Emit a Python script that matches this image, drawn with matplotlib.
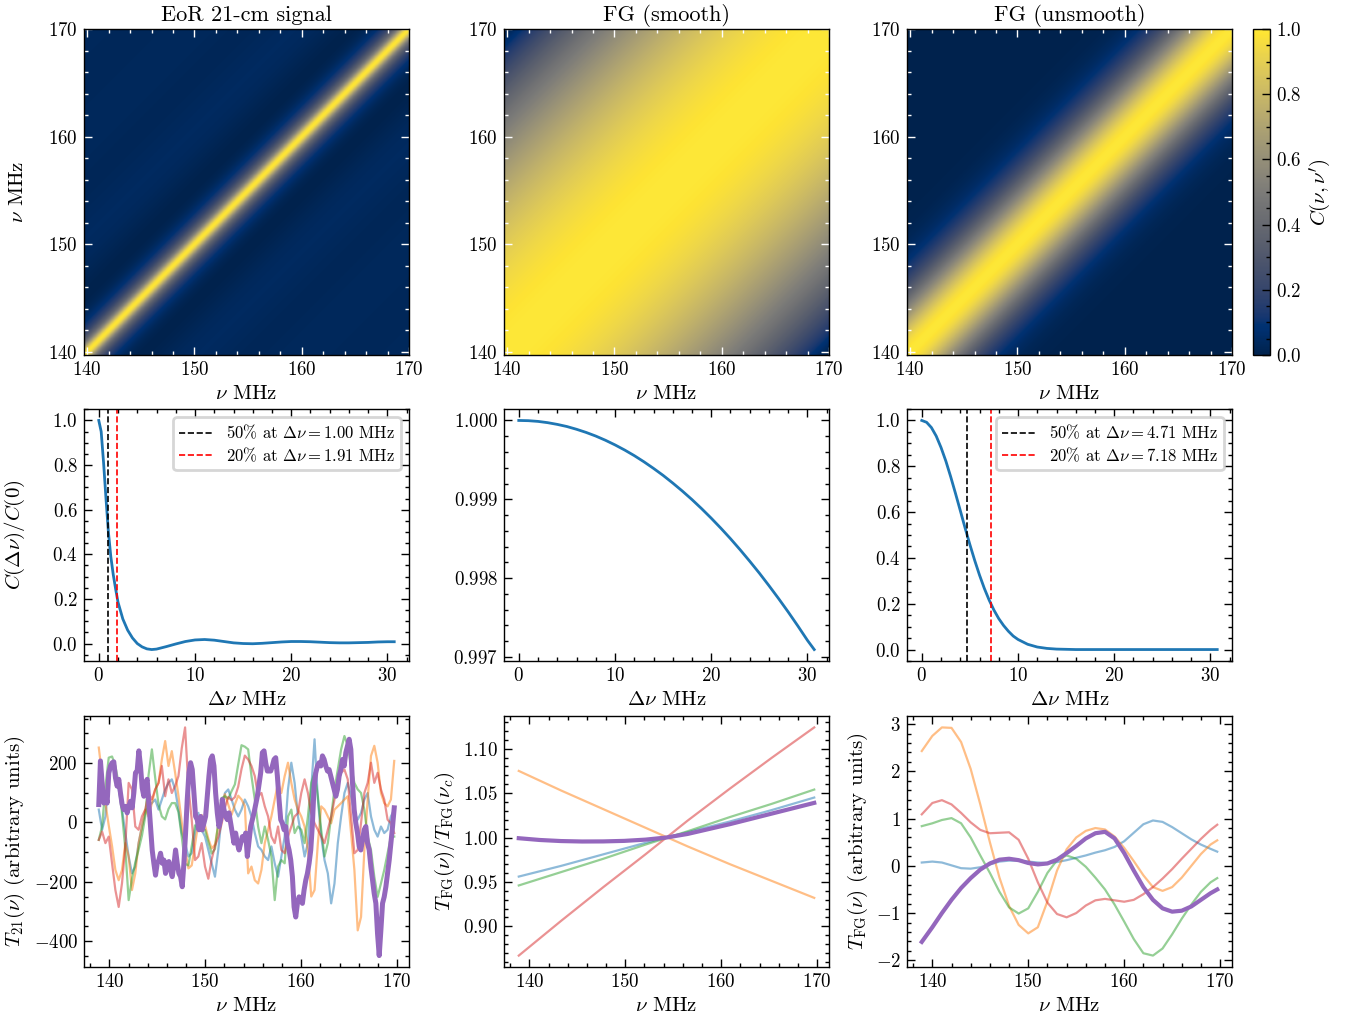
import numpy as np
import matplotlib
matplotlib.use("Agg")
import matplotlib.pyplot as plt
from matplotlib.ticker import MultipleLocator

# ---------------- data ----------------
# correlation functions C(dnu)/C(0)
eor_dnu = [0, 0.25, 0.5, 0.75, 1.0, 1.25, 1.5, 1.75, 2.0, 2.5, 3.0, 3.5, 4.0, 4.5, 5.0, 5.5,
           6.0, 7.0, 8.0, 9.0, 10.0, 11.0, 12.0, 13.0, 14.0, 15.0, 16.0, 17.0, 18.0, 19.0,
           20.0, 21.0, 22.0, 23.0, 24.0, 25.0, 26.0, 27.0, 28.0, 29.0, 30.0, 30.7]
eor_corr = [1.0, 0.95, 0.81, 0.65, 0.50, 0.39, 0.31, 0.245, 0.185, 0.11, 0.06, 0.025, 0.0,
            -0.015, -0.024, -0.027, -0.025, -0.014, -0.002, 0.009, 0.016, 0.018, 0.015,
            0.009, 0.003, 0.0, -0.001, 0.001, 0.004, 0.007, 0.009, 0.009, 0.008, 0.006,
            0.004, 0.003, 0.003, 0.004, 0.005, 0.007, 0.008, 0.008]

fgs_dnu = [0, 1, 2, 3, 4, 5, 6, 7, 8, 9, 10, 11, 12, 13, 14, 15, 16, 17, 18, 19, 20, 21, 22,
           23, 24, 25, 26, 27, 28, 29, 30, 30.7]
fgs_corr = [1.000000, 0.999997, 0.999988, 0.999972, 0.999950, 0.999923, 0.999888, 0.999848,
            0.999802, 0.999749, 0.999690, 0.999625, 0.999554, 0.999476, 0.999392, 0.999303,
            0.999206, 0.999104, 0.998996, 0.998881, 0.998760, 0.998633, 0.998500, 0.998360,
            0.998214, 0.998063, 0.997904, 0.997740, 0.997570, 0.997393, 0.997210, 0.997094]

fgu_dnu = [0, 0.5, 1, 1.5, 2, 2.5, 3, 3.5, 4, 4.5, 5, 5.5, 6, 6.5, 7, 7.5, 8, 8.5, 9, 9.5,
           10, 11, 12, 13, 14, 15, 16, 20, 25, 30.7]
fgu_corr = [1.0, 0.992, 0.969, 0.932, 0.882, 0.823, 0.755, 0.682, 0.607, 0.531, 0.458, 0.389,
            0.325, 0.267, 0.216, 0.172, 0.135, 0.105, 0.080, 0.059, 0.044, 0.023, 0.011,
            0.005, 0.002, 0.001, 0.0, 0.0, 0.0, 0.0]

eor_50, eor_20 = 1.00, 1.91
fgu_50, fgu_20 = 4.71, 7.18

# frequency range of the band (MHz)
nu_start, nu_end = 138.9, 169.7

# EoR 21-cm realisations (arbitrary units)
t21_blue = [43, -25, 20, 145, 201, 156, 111, 43, -36, -115, -172, -149, -70, -14, 32, 54, 65, 77, 43, 77,
            111, 133, 145, 111, 43, -36, -70, -115, -104, -36, 32, -25, -48, -93, -138, -183, -93, 20, 99, 111,
            77, 43, 20, 43, 77,
            54, 20, -36, -81, -93, -115, -127, -81, -138, -183, -115, -48, 111, 201, 133, 20, -48, -115, -70, 111,
            280, 77, -48, -127, -172, -273, -206, -70, 20, 99, 133, 88, 32, 9, 32, 77, 99, 20, -25, -48,
            -14, -36, -25, 20, 43]
t21_orange = [252, 160, 65, -10, -80, -160, -195, -160, -70, -115, -228, -172, -70, -14, 43, 20, 65, 111, 133, 212,
              274, 190, 240, 167, 90, 0, -90, -155, -145, -75, 0, 25, -10, -55, -88, -75, -10, 65, 95, 60,
              25, 60, 90, 77, 55,
              -172, -149, -195, -206, -160, -70, -25, 20, 77, 133, 99, 156, 201, 133, 77, 43, 20, -14, -93, -250,
              -228, -70, 54, 43, 20, -3, 43, 54, 65, 77, 88, -36, -160, -364, -319, -93, 77, 224, 258, 201,
              99, 65, 54, 77, 207]
t21_green = [-59, -14, 120, 218, 222, 190, 130, 30, -90, -262, -190, -135, -92, -45, 20, 160, 246, 150, 60, 20,
             10, 45, 65, 65, 35, -50, -140, -145, -80, -10, -15, -30, -25, -65, -105, -90, 0, 82, 88, 80,
             105, 128, 195, 260, 255,
             246, 156, 77, -14, -70, -14, -59, -115, -262, -149, -127, -138, 20, 43, -36, -14, -25, -70, 20, 133,
             167, 88, -25, -115, -70, 20, 111, 178, 246, 291, 258, 190, 133, 111, 99, 43, -48, -93, -183, -251,
             -206, -160, -104, -48, -48]
t21_red = [-59, -31, -70, -48, -138, -228, -285, -205, -80, 133, 111, -14, -25, 20, 43, 99, 77, 111, 133, 190,
           88, 145, 99, 122, 156, 250, 320, 120, 9, -127, -115, -70, -149, -190, -125, -80, -50, -5, 50, 85,
           75, 85, 120, 180, 225,
           212, 190, 156, 88, 99, 54, 20, -48, -70, -14, -93, -104, -48, -14, 20, 31, 99, 145, 99, 31,
           -3, -25, -48, -70, -25, 20, 77, 133, 167, 178, 145, 20, -104, -93, -3, 99, 133, 201, 133, 167,
           111, 77, 9, -3, -36]
t21_purple = [60, 207, 133, 65, 99, 65, 167, 190, 201, 204, 150, 122, 145, 99, 60, 43, 54, 32, 54, 71,
              49, 99, 167, 173, 241, 190, 116, 88, 133, 145, 65, -14, -93, -138, -178, -138, -127, -104, -138, -127,
              -172, -138, -132, -161, -183, -144, -93, -138, -172, -183, -217, -138, -36, 77, 167, 201, 178, 99, 20, 9,
              -25, 20, -25, -3, 20, 88, 156, 212, 224, 190, 99, 32, -14, 9, 77, 43, 20, 9, 32, -3,
              -36, -70, -36, -70, -93, -70, -48, -59, -36,
              -115, -64, -14, 9, 32, 60, 88, 128, 167, 235, 241, 201, 173, 173, 173, 190, 212, 218, 156, 77,
              9, -3, -25, -14, -70, -93, -127, -183, -285, -319, -273, -251, -262, -273, -228, -195, -172, -138, -93, -3,
              122, 167, 190, 201, 190, 224, 212, 190, 173, 178, 156, 133, 111, 88, 111, 156, 178, 212, 190, 235,
              258, 280, 246, 133, 43, -3, -36, -81, -93, -59, -25, -14, -70, -93, -149, -195, -240, -273, -375, -449,
              -364, -273, -251, -217, -172, -127, -70, -14, 49]

# smooth foreground spectra, normalised at nu_c
fgs_blue = [0.956, 0.968, 0.981, 0.994, 1.006, 1.018, 1.031, 1.045]
fgs_orange = [1.075, 1.053, 1.032, 1.011, 0.990, 0.970, 0.951, 0.932]
fgs_green = [0.946, 0.961, 0.976, 0.992, 1.007, 1.023, 1.038, 1.054]
fgs_red = [0.867, 0.906, 0.944, 0.981, 1.019, 1.055, 1.090, 1.124]
fgs_purple = [0.9992, 0.9972, 0.9960, 0.9955, 0.9956, 0.9962, 0.9976, 1.0000,
              1.0040, 1.0095, 1.0150, 1.0210, 1.0270, 1.0330, 1.0390]

# unsmooth foreground realisations (arbitrary units), at 139..169 MHz and 169.7
fgu_nu = [138.9] + list(range(140, 170)) + [169.7]
fgu_blue = [0.07, 0.09, 0.07, 0.01, -0.05, -0.06, -0.03, 0.03, 0.09, 0.11, 0.11, 0.09, 0.07, 0.06, 0.08, 0.12,
            0.17, 0.22, 0.28, 0.33, 0.40, 0.52, 0.70, 0.88, 0.96, 0.93, 0.82, 0.69, 0.56, 0.45, 0.36, 0.30]
fgu_orange = [2.43, 2.75, 2.93, 2.92, 2.62, 2.05, 1.30, 0.50, -0.25, -0.85, -1.25, -1.43, -1.30, -0.75, -0.10, 0.35,
              0.60, 0.74, 0.80, 0.77, 0.62, 0.38, 0.10, -0.20, -0.45, -0.53, -0.45, -0.25, 0.00, 0.25, 0.45, 0.54]
fgu_green = [0.84, 0.90, 0.97, 1.01, 0.90, 0.60, 0.22, -0.15, -0.55, -0.88, -1.01, -0.90, -0.55, -0.15, 0.12, 0.22,
             0.15, -0.02, -0.25, -0.50, -0.82, -1.18, -1.55, -1.85, -1.90, -1.75, -1.45, -1.12, -0.82, -0.55, -0.35, -0.26]
fgu_red = [1.09, 1.33, 1.39, 1.30, 1.12, 0.92, 0.76, 0.69, 0.70, 0.71, 0.55, 0.15, -0.35, -0.78, -1.02, -1.09,
           -1.00, -0.84, -0.73, -0.70, -0.73, -0.76, -0.72, -0.60, -0.45, -0.27, -0.07, 0.15, 0.36, 0.57, 0.76, 0.87]
fgu_purple = [-1.61, -1.30, -1.00, -0.72, -0.47, -0.26, -0.08, 0.05, 0.13, 0.15, 0.12, 0.06, 0.03, 0.05, 0.13, 0.27,
              0.42, 0.58, 0.69, 0.72, 0.58, 0.27, -0.10, -0.45, -0.72, -0.90, -0.97, -0.95, -0.86, -0.72, -0.58, -0.50]

# ---------------- style ----------------
plt.rcParams.update({
    "font.family": "serif",
    "font.serif": ["cmr10"],
    "mathtext.fontset": "cm",
    "axes.formatter.use_mathtext": True,
    "font.size": 7.5,
    "axes.titlesize": 8,
    "axes.titlepad": 3,
    "axes.labelsize": 7.5,
    "axes.labelpad": 2,
    "xtick.labelsize": 6.8,
    "ytick.labelsize": 6.8,
    "xtick.major.pad": 2.2,
    "ytick.major.pad": 2.2,
    "legend.fontsize": 6,
    "axes.linewidth": 0.5,
    "xtick.direction": "in",
    "ytick.direction": "in",
    "xtick.top": True,
    "ytick.right": True,
    "xtick.major.size": 3,
    "ytick.major.size": 3,
    "xtick.minor.size": 1.5,
    "ytick.minor.size": 1.5,
    "xtick.major.width": 0.5,
    "ytick.major.width": 0.5,
    "xtick.minor.width": 0.5,
    "ytick.minor.width": 0.5,
    "xtick.minor.visible": True,
    "ytick.minor.visible": True,
    "lines.linewidth": 1.0,
})

W, H = 1346, 1018
fig = plt.figure(figsize=(W / 200, H / 200), dpi=200)


def px_axes(x0, y0, x1, y1):
    return fig.add_axes([x0 / W, 1 - y1 / H, (x1 - x0) / W, (y1 - y0) / H])


def pct_label(p, d):
    return f"{p}% at $\\Delta\\nu = {d:.2f}$ MHz"


leg_kw = dict(loc="upper right", labelspacing=0.25, borderpad=0.35, handletextpad=0.8)
left_label_x = -0.175

cols = [(84, 409), (504, 829), (907, 1232)]
rows = [(29, 355), (409, 661), (716, 967)]

# ---------------- top row: correlation matrices ----------------
nu_img = np.linspace(nu_start, nu_end, 400)
dmat = np.abs(nu_img[:, None] - nu_img[None, :])
mats = [np.interp(dmat, eor_dnu, eor_corr),
        np.interp(dmat, fgs_dnu, fgs_corr),
        np.interp(dmat, fgu_dnu, fgu_corr)]
titles = ["EoR 21-cm signal", "FG (smooth)", "FG (unsmooth)"]
ext = [139.7, 170.0, 139.7, 170.0]
im = None
for i, (c, mat) in enumerate(zip(cols, mats)):
    ax = px_axes(c[0], rows[0][0], c[1], rows[0][1])
    im = ax.imshow(mat, origin="lower", cmap="cividis", aspect="auto", extent=ext,
                   interpolation="bilinear")
    ax.set_title(titles[i])
    ax.set_xlabel(r"$\nu$ MHz")
    if i == 0:
        ax.set_ylabel(r"$\nu$ MHz")
        ax.yaxis.set_label_coords(left_label_x, 0.5)
    ax.set_xticks([140, 150, 160, 170])
    ax.set_yticks([140, 150, 160, 170])
    ax.xaxis.set_minor_locator(MultipleLocator(2))
    ax.yaxis.set_minor_locator(MultipleLocator(2))
    ax.tick_params(which="both", color="white")

cax = px_axes(1253, rows[0][0], 1270, rows[0][1])
cb = fig.colorbar(im, cax=cax)
cb.set_label(r"$C(\nu,\nu')$")
cb.outline.set_linewidth(0.5)
cb.set_ticks([0.0, 0.2, 0.4, 0.6, 0.8, 1.0])
cb.ax.yaxis.set_minor_locator(MultipleLocator(0.05))
cb.ax.tick_params(which="both", direction="in")

# ---------------- middle row: 1D correlation ----------------
ax = px_axes(cols[0][0], rows[1][0], cols[0][1], rows[1][1])
ax.plot(eor_dnu, eor_corr, color="C0", lw=1.0)
ax.axvline(eor_50, color="k", ls="--", lw=0.6, label=pct_label(50, eor_50))
ax.axvline(eor_20, color="r", ls="--", lw=0.6, label=pct_label(20, eor_20))
ax.legend(**leg_kw)
ax.set_xlabel(r"$\Delta\nu$ MHz")
ax.set_ylabel(r"$C(\Delta\nu)/C(0)$")
ax.yaxis.set_label_coords(left_label_x, 0.5)
ax.xaxis.set_major_locator(MultipleLocator(10))
ax.xaxis.set_minor_locator(MultipleLocator(2))
ax.yaxis.set_major_locator(MultipleLocator(0.2))
ax.yaxis.set_minor_locator(MultipleLocator(0.05))

ax = px_axes(cols[1][0], rows[1][0], cols[1][1], rows[1][1])
ax.plot(fgs_dnu, fgs_corr, color="C0", lw=1.0)
ax.set_xlabel(r"$\Delta\nu$ MHz")
ax.xaxis.set_major_locator(MultipleLocator(10))
ax.xaxis.set_minor_locator(MultipleLocator(2))
ax.yaxis.set_major_locator(MultipleLocator(0.001))
ax.yaxis.set_minor_locator(MultipleLocator(0.0002))
ax.ticklabel_format(axis="y", useOffset=False)

ax = px_axes(cols[2][0], rows[1][0], cols[2][1], rows[1][1])
ax.plot(fgu_dnu, fgu_corr, color="C0", lw=1.0)
ax.axvline(fgu_50, color="k", ls="--", lw=0.6, label=pct_label(50, fgu_50))
ax.axvline(fgu_20, color="r", ls="--", lw=0.6, label=pct_label(20, fgu_20))
ax.legend(**leg_kw)
ax.set_xlabel(r"$\Delta\nu$ MHz")
ax.xaxis.set_major_locator(MultipleLocator(10))
ax.xaxis.set_minor_locator(MultipleLocator(2))
ax.yaxis.set_major_locator(MultipleLocator(0.2))
ax.yaxis.set_minor_locator(MultipleLocator(0.05))

# ---------------- bottom row: realisations ----------------
thin = dict(lw=0.8, alpha=0.5)

ax = px_axes(cols[0][0], rows[2][0], cols[0][1], rows[2][1])
nu_thin = np.linspace(nu_start, nu_end, len(t21_blue))
nu_thick = np.linspace(nu_start, nu_end, len(t21_purple))
for k, s in enumerate([t21_blue, t21_orange, t21_green, t21_red]):
    ax.plot(nu_thin, s, color="C%d" % k, **thin)
ax.plot(nu_thick, t21_purple, color="C4", lw=1.8)
ax.set_xlabel(r"$\nu$ MHz")
ax.set_ylabel(r"$T_{21}(\nu)$ (arbitrary units)")
ax.yaxis.set_label_coords(left_label_x, 0.5)
ax.xaxis.set_major_locator(MultipleLocator(10))
ax.xaxis.set_minor_locator(MultipleLocator(2))
ax.yaxis.set_major_locator(MultipleLocator(200))
ax.yaxis.set_minor_locator(MultipleLocator(50))

ax = px_axes(cols[1][0], rows[2][0], cols[1][1], rows[2][1])
nu8 = np.linspace(nu_start, nu_end, len(fgs_blue))
nu15 = np.linspace(nu_start, nu_end, len(fgs_purple))
for k, s in enumerate([fgs_blue, fgs_orange, fgs_green, fgs_red]):
    ax.plot(nu8, s, color="C%d" % k, **thin)
ax.plot(nu15, fgs_purple, color="C4", lw=1.5)
ax.set_xlabel(r"$\nu$ MHz")
ax.set_ylabel(r"$T_{\rm FG}(\nu)/T_{\rm FG}(\nu_c)$")
ax.xaxis.set_major_locator(MultipleLocator(10))
ax.xaxis.set_minor_locator(MultipleLocator(2))
ax.yaxis.set_major_locator(MultipleLocator(0.05))
ax.yaxis.set_minor_locator(MultipleLocator(0.01))

ax = px_axes(cols[2][0], rows[2][0], cols[2][1], rows[2][1])
for k, s in enumerate([fgu_blue, fgu_orange, fgu_green, fgu_red]):
    ax.plot(fgu_nu, s, color="C%d" % k, **thin)
ax.plot(fgu_nu, fgu_purple, color="C4", lw=1.5)
ax.set_xlabel(r"$\nu$ MHz")
ax.set_ylabel(r"$T_{\rm FG}(\nu)$ (arbitrary units)")
ax.xaxis.set_major_locator(MultipleLocator(10))
ax.xaxis.set_minor_locator(MultipleLocator(2))
ax.yaxis.set_major_locator(MultipleLocator(1))
ax.yaxis.set_minor_locator(MultipleLocator(0.2))

fig.savefig("out.png", dpi=200)
